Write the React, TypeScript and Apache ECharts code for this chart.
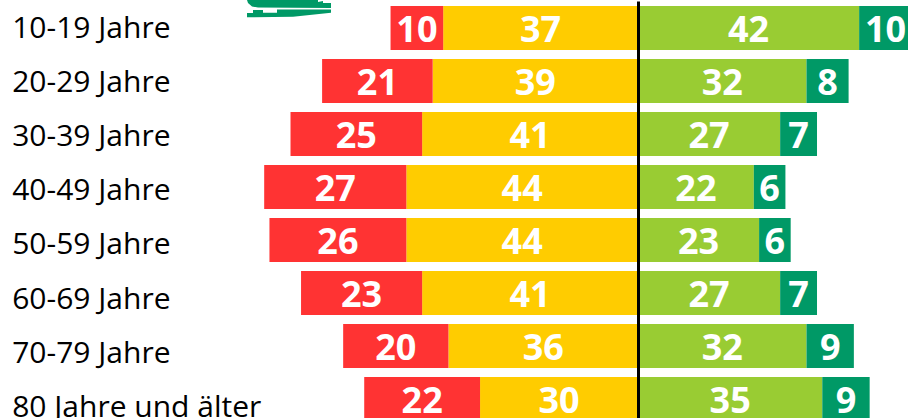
import React, { useEffect, useRef } from "react";
import * as echarts from "echarts";

const categories = ["10-19 Jahre", "20-29 Jahre", "30-39 Jahre", "40-49 Jahre", "50-59 Jahre", "60-69 Jahre", "70-79 Jahre", "80 Jahre und älter"];
const redValues = [10, 21, 25, 27, 26, 23, 20, 22];
const yellowValues = [37, 39, 41, 44, 44, 41, 36, 30];
const greenValues = [42, 32, 27, 22, 23, 27, 32, 35];
const darkGreenValues = [10, 8, 7, 6, 6, 7, 9, 9];

const logoUpper = [[247, 0], [248, 3], [252, 6.5], [258, 7.5], [331, 8], [331, 3], [323, 3], [323, 1], [318, 2], [318, 0]];
const logoLower = [[247, 13], [253, 13], [253, 10], [263, 10], [263, 12.7], [277, 12.7], [277, 9.5], [331, 9.5], [331, 12.7], [293, 16.7], [247, 17.3]];

const PX_PER_UNIT = 5.265;
const ZERO_X = 638;
const BAND = 53;
const LABEL_BAND = 54.2;

const barSeries = (name: string, values: number[], color: string, sign: number, extra: object = {}) => ({
  name,
  type: "bar",
  stack: "total",
  barWidth: 44,
  data: values.map((v) => v * sign),
  itemStyle: { color },
  label: {
    show: true,
    position: "inside",
    color: "#fff",
    fontFamily: "Open Sans",
    fontWeight: "bold",
    fontSize: 36,
    formatter: (p: any) => String(Math.abs(p.value)),
  },
  ...extra,
});

export default function App() {
  const ref = useRef<HTMLDivElement>(null);
  useEffect(() => {
    document.body.style.margin = "0";
    const chart = echarts.init(ref.current!, null, { renderer: "svg" });
    const left = ZERO_X - 120 * PX_PER_UNIT;
    const width = 180 * PX_PER_UNIT;
    chart.setOption({
      animation: false,
      grid: [
        { left, top: 1.5, width, height: BAND * categories.length, containLabel: false, outerBoundsMode: "none" },
        { left, top: -1, width, height: LABEL_BAND * categories.length, containLabel: false, outerBoundsMode: "none" },
      ],
      xAxis: [
        { type: "value", min: -120, max: 60, show: false, gridIndex: 0 },
        { type: "value", min: -120, max: 60, show: false, gridIndex: 1 },
      ],
      yAxis: [
        {
          type: "category",
          gridIndex: 0,
          inverse: true,
          data: categories,
          axisLine: { show: false, onZero: false },
          axisTick: { show: false },
          axisLabel: { show: false },
        },
        {
          type: "category",
          gridIndex: 1,
          inverse: true,
          data: categories,
          axisLine: { show: false, onZero: false },
          axisTick: { show: false },
          axisLabel: { align: "left", margin: -6, color: "#000", fontFamily: "Open Sans", fontSize: 30 },
        },
      ],
      graphic: [
        { type: "polygon", shape: { points: logoUpper }, style: { fill: "#009966" } },
        { type: "polygon", shape: { points: logoLower }, style: { fill: "#009966" } },
      ],
      series: [
        barSeries("neutral", yellowValues, "#FFCC00", -1),
        barSeries("negative", redValues, "#FF3333", -1),
        barSeries("positive", greenValues, "#99CC33", 1, {
          markLine: {
            silent: true,
            symbol: "none",
            label: { show: false },
            lineStyle: { color: "#000", width: 3, type: "solid" },
            data: [{ xAxis: 0 }],
            z: 10,
          },
        }),
        barSeries("very positive", darkGreenValues, "#009966", 1),
      ],
    });
    return () => chart.dispose();
  }, []);
  return <div ref={ref} style={{ width: 908, height: 418, position: "absolute", left: 0, top: 0, overflow: "hidden" }} />;
}
